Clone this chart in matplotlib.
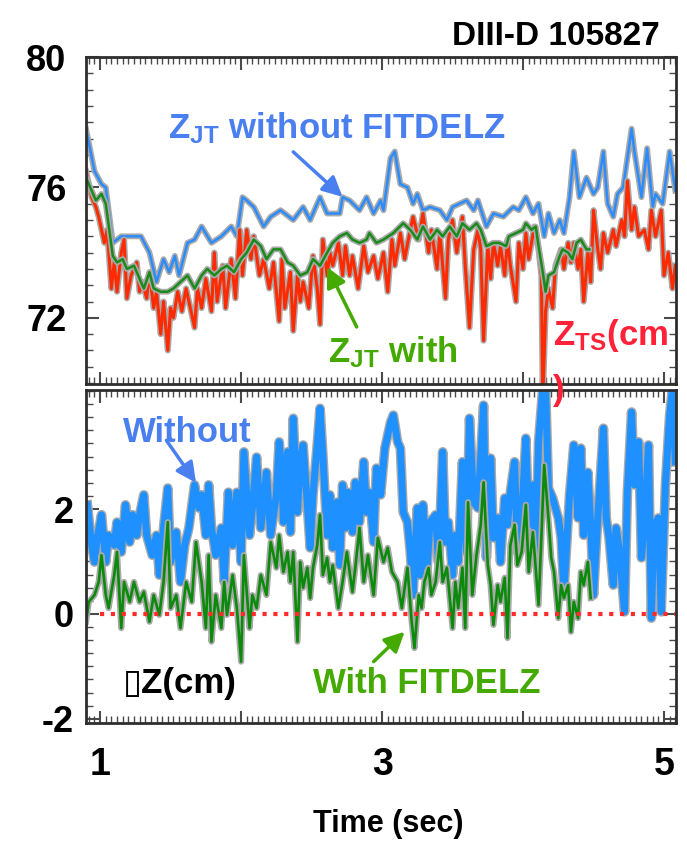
import matplotlib
matplotlib.use('Agg')
from matplotlib import pyplot as plt
from matplotlib import patheffects as pe
from matplotlib.ticker import MultipleLocator

# vertical position traces, DIII-D shot 105827 (time in sec, Z in cm)

# Z_JT without FITDELZ
zjt_no_t = [0.90, 0.96, 1.01, 1.04, 1.09, 1.15, 1.29, 1.35, 1.40, 1.45, 1.49, 1.53, 1.56, 1.62, 1.67,
            1.72, 1.79, 1.86, 1.93, 1.97, 2.01, 2.04, 2.09, 2.16, 2.21, 2.28, 2.37, 2.44, 2.49, 2.56,
            2.61, 2.70, 2.72, 2.77, 2.84, 2.89, 2.94, 2.99, 3.01, 3.06, 3.09, 3.13, 3.18, 3.22, 3.25,
            3.29, 3.34, 3.41, 3.46, 3.50, 3.60, 3.65, 3.68, 3.74, 3.79, 3.86, 3.93, 3.97, 4.02, 4.07,
            4.11, 4.15, 4.18, 4.22, 4.26, 4.29, 4.33, 4.36, 4.40, 4.45, 4.50, 4.53, 4.57, 4.60, 4.64,
            4.67, 4.71, 4.77, 4.79, 4.84, 4.88, 4.92, 4.94, 4.99, 5.04, 5.08]
zjt_no = [77.8, 76.5, 76.1, 76.0, 74.3, 74.5, 74.5, 74.0, 73.1, 73.8, 73.4, 73.9, 73.3, 74.3, 74.4,
          74.8, 74.3, 74.5, 74.8, 74.5, 75.7, 75.6, 75.4, 74.8, 75.1, 75.3, 75.0, 75.4, 75.0, 75.7,
          75.2, 75.2, 75.7, 75.6, 75.3, 75.7, 75.2, 75.6, 75.3, 76.9, 77.1, 76.1, 76.0, 75.5, 75.8,
          75.3, 75.4, 75.3, 75.0, 75.4, 75.6, 75.3, 75.6, 74.8, 75.2, 75.1, 75.4, 75.3, 75.7, 75.2,
          75.5, 74.5, 75.2, 74.6, 75.0, 74.6, 75.7, 77.1, 75.7, 76.3, 75.8, 76.0, 77.1, 75.5, 75.1,
          75.8, 76.0, 77.8, 77.1, 75.7, 77.2, 75.4, 75.8, 75.5, 77.1, 75.9]

# Thomson scattering Z_TS
zts_t = [0.90, 0.94, 0.97, 0.99, 1.03, 1.05, 1.08, 1.10, 1.12, 1.15, 1.17, 1.19, 1.22, 1.26, 1.28,
         1.30, 1.33, 1.35, 1.38, 1.40, 1.43, 1.45, 1.48, 1.50, 1.52, 1.55, 1.58, 1.61, 1.63, 1.67,
         1.69, 1.72, 1.75, 1.79, 1.81, 1.83, 1.87, 1.89, 1.93, 1.96, 1.99, 2.01, 2.04, 2.07, 2.09,
         2.13, 2.16, 2.20, 2.23, 2.27, 2.29, 2.31, 2.35, 2.37, 2.40, 2.42, 2.44, 2.48, 2.51, 2.54,
         2.56, 2.58, 2.61, 2.63, 2.65, 2.69, 2.72, 2.74, 2.77, 2.79, 2.83, 2.87, 2.90, 2.94, 2.97,
         3.01, 3.04, 3.07, 3.09, 3.13, 3.16, 3.20, 3.22, 3.26, 3.29, 3.33, 3.35, 3.39, 3.41, 3.45,
         3.47, 3.50, 3.53, 3.57, 3.59, 3.62, 3.65, 3.68, 3.70, 3.72, 3.75, 3.77, 3.79, 3.82, 3.84,
         3.87, 3.89, 3.91, 3.95, 3.97, 4.00, 4.02, 4.04, 4.08, 4.11, 4.13, 4.14, 4.16, 4.18, 4.21,
         4.23, 4.27, 4.29, 4.32, 4.34, 4.36, 4.39, 4.41, 4.43, 4.46, 4.48, 4.50, 4.53, 4.55, 4.57,
         4.60, 4.64, 4.66, 4.70, 4.72, 4.74, 4.77, 4.79, 4.82, 4.86, 4.89, 4.91, 4.94, 4.98, 5.00,
         5.03, 5.06, 5.08]
zts = [76.5, 75.7, 75.4, 75.1, 74.3, 74.7, 72.9, 73.7, 72.8, 74.0, 74.4, 72.6, 73.3, 73.7, 72.8,
       73.1, 72.6, 73.4, 72.3, 72.8, 71.5, 72.5, 71.0, 72.3, 72.0, 72.8, 72.2, 72.9, 72.5, 71.7,
       72.9, 72.3, 73.2, 72.2, 74.0, 72.5, 73.6, 72.3, 73.8, 72.6, 74.7, 73.3, 74.7, 73.8, 74.5,
       73.3, 73.8, 72.9, 73.7, 71.9, 73.8, 72.3, 73.4, 71.6, 73.3, 72.5, 73.1, 72.3, 73.9, 72.9,
       71.8, 74.4, 73.3, 74.0, 73.6, 74.3, 73.3, 74.2, 73.3, 73.9, 72.9, 74.2, 73.4, 73.9, 73.2,
       74.0, 72.8, 74.4, 73.6, 74.6, 73.8, 74.7, 75.1, 74.4, 75.2, 74.0, 74.7, 73.5, 74.6, 72.6,
       74.4, 75.0, 74.0, 75.1, 73.6, 71.7, 74.1, 74.7, 74.1, 71.3, 74.2, 73.2, 74.3, 73.6, 74.2,
       73.3, 74.4, 73.6, 72.5, 74.3, 73.5, 74.6, 73.8, 74.8, 74.1, 73.3, 69.5, 72.2, 72.9, 72.3,
       73.6, 74.1, 73.5, 74.3, 73.7, 74.3, 73.5, 74.1, 72.5, 74.0, 73.1, 75.3, 74.1, 73.5, 74.6,
       74.0, 74.7, 74.2, 75.0, 74.5, 76.2, 74.7, 75.4, 74.5, 74.7, 74.1, 75.3, 74.5, 75.3, 73.3,
       74.0, 72.9, 73.6]

# Z_JT with FITDELZ
zjt_t = [0.90, 0.94, 0.97, 1.01, 1.04, 1.09, 1.12, 1.16, 1.19, 1.24, 1.28, 1.31, 1.35, 1.38, 1.43,
         1.48, 1.52, 1.57, 1.62, 1.67, 1.72, 1.76, 1.81, 1.86, 1.90, 1.95, 2.00, 2.04, 2.09, 2.14,
         2.18, 2.23, 2.28, 2.33, 2.37, 2.42, 2.47, 2.51, 2.56, 2.61, 2.65, 2.70, 2.75, 2.79, 2.84,
         2.89, 2.91, 2.96, 3.01, 3.08, 3.15, 3.20, 3.25, 3.29, 3.34, 3.39, 3.43, 3.48, 3.53, 3.57,
         3.62, 3.67, 3.70, 3.74, 3.79, 3.83, 3.88, 3.90, 3.95, 4.00, 4.02, 4.06, 4.09, 4.11, 4.14,
         4.16, 4.18, 4.22, 4.26, 4.28, 4.32, 4.35, 4.38, 4.41, 4.45, 4.47]
zjt = [76.3, 75.9, 75.6, 75.8, 75.5, 73.9, 73.7, 73.8, 73.5, 73.6, 73.2, 72.9, 73.4, 72.9, 72.8,
       72.8, 72.9, 73.1, 73.3, 72.9, 73.3, 73.5, 73.3, 73.5, 73.6, 73.4, 73.8, 74.0, 74.4, 74.2,
       73.8, 74.1, 74.1, 73.7, 73.6, 73.3, 73.4, 73.8, 73.6, 74.0, 74.3, 74.5, 74.6, 74.4, 74.3,
       74.4, 74.6, 74.3, 74.4, 74.6, 74.9, 74.7, 74.4, 74.8, 74.4, 74.7, 74.5, 74.8, 74.5, 74.9,
       74.7, 74.9, 74.7, 74.2, 74.3, 74.3, 74.2, 74.5, 74.6, 74.7, 74.9, 74.7, 74.8, 74.2, 73.4,
       72.8, 73.3, 73.4, 73.9, 74.1, 74.0, 73.8, 74.3, 74.4, 74.1, 74.1]

# delta Z = Z_JT - Z_TS, without FITDELZ
dz_no_t = [0.91, 0.94, 0.96, 0.98, 1.01, 1.04, 1.06, 1.10, 1.12, 1.15, 1.18, 1.21, 1.23, 1.26, 1.28,
           1.31, 1.33, 1.37, 1.40, 1.42, 1.45, 1.48, 1.50, 1.54, 1.57, 1.60, 1.63, 1.67, 1.70, 1.72,
           1.75, 1.77, 1.79, 1.82, 1.86, 1.88, 1.91, 1.94, 1.97, 2.00, 2.02, 2.06, 2.08, 2.11, 2.14,
           2.18, 2.21, 2.25, 2.27, 2.29, 2.30, 2.33, 2.35, 2.37, 2.40, 2.42, 2.44, 2.47, 2.49, 2.51,
           2.54, 2.56, 2.58, 2.61, 2.63, 2.65, 2.68, 2.70, 2.72, 2.74, 2.76, 2.79, 2.81, 2.84, 2.87,
           2.89, 2.91, 2.94, 2.96, 2.99, 3.02, 3.06, 3.08, 3.11, 3.13, 3.15, 3.18, 3.20, 3.22, 3.25,
           3.27, 3.29, 3.32, 3.34, 3.38, 3.40, 3.43, 3.45, 3.47, 3.50, 3.52, 3.54, 3.57, 3.60, 3.62,
           3.65, 3.68, 3.72, 3.74, 3.77, 3.79, 3.82, 3.84, 3.87, 3.89, 3.91, 3.94, 3.96, 3.99, 4.02,
           4.04, 4.07, 4.09, 4.11, 4.14, 4.16, 4.18, 4.21, 4.25, 4.27, 4.29, 4.33, 4.36, 4.39, 4.41,
           4.43, 4.46, 4.48, 4.50, 4.53, 4.57, 4.59, 4.61, 4.64, 4.66, 4.68, 4.72, 4.74, 4.77, 4.79,
           4.82, 4.84, 4.86, 4.89, 4.91, 4.93, 4.96, 4.98, 5.01, 5.04, 5.06, 5.08]
dz_no = [2.08, 1.31, 0.99, 1.45, 1.89, 0.99, 1.50, 1.31, 1.75, 1.18, 2.08, 1.37, 1.89, 1.50, 1.89,
         2.27, 1.50, 1.12, 1.50, 0.74, 1.64, 2.40, 0.99, 1.56, 0.61, 1.31, 1.64, 2.46, 2.02, 2.27,
         1.50, 2.46, 1.64, 1.12, 1.64, 0.61, 2.32, 1.31, 2.32, 0.99, 3.09, 1.50, 2.02, 2.99, 1.64,
         2.70, 1.50, 2.27, 3.28, 2.70, 1.75, 3.09, 1.56, 3.73, 1.94, 2.97, 3.22, 2.08, 1.26, 2.27,
         3.22, 3.92, 3.03, 1.50, 2.27, 1.26, 2.13, 0.93, 2.46, 1.64, 2.32, 1.56, 2.51, 1.75, 2.90,
         1.94, 2.32, 1.37, 2.78, 2.27, 3.16, 3.65, 3.79, 3.28, 3.16, 1.94, 1.75, 1.18, 0.36, 2.02,
         0.74, 2.08, 0.88, 1.75, 1.89, 0.99, 3.09, 1.37, 1.75, 0.74, 1.50, 0.99, 2.90, 1.18, 3.73,
         2.13, 2.02, 3.98, 1.07, 2.97, 1.45, 1.83, 0.99, 2.21, 1.70, 2.32, 2.90, 1.18, 1.83, 3.35,
         1.70, 2.46, 1.18, 3.28, 4.30, 4.30, 2.40, 2.21, 1.83, 1.45, 0.42, 2.27, 3.22, 1.83, 3.16,
         1.50, 2.70, 1.70, 0.36, 1.83, 3.54, 1.83, 1.45, 0.55, 1.64, 1.26, 0.04, 2.32, 3.85, 2.46,
         3.28, 1.07, 1.70, 3.22, -0.08, 1.70, 1.83, 0.04, 2.46, 3.79, 4.30, 2.90]

# delta Z with FITDELZ
dz_fit_t = [0.90, 0.92, 0.96, 0.99, 1.01, 1.04, 1.06, 1.10, 1.12, 1.15, 1.17, 1.21, 1.24, 1.28, 1.31,
            1.35, 1.38, 1.42, 1.45, 1.48, 1.50, 1.54, 1.57, 1.61, 1.65, 1.68, 1.70, 1.72, 1.75, 1.77,
            1.79, 1.82, 1.86, 1.88, 1.90, 1.94, 1.97, 2.00, 2.02, 2.06, 2.08, 2.11, 2.14, 2.18, 2.21,
            2.25, 2.27, 2.30, 2.33, 2.35, 2.37, 2.40, 2.42, 2.44, 2.47, 2.49, 2.51, 2.54, 2.56, 2.58,
            2.61, 2.63, 2.65, 2.69, 2.72, 2.75, 2.79, 2.81, 2.84, 2.87, 2.90, 2.94, 2.97, 3.01, 3.04,
            3.07, 3.11, 3.14, 3.16, 3.18, 3.21, 3.23, 3.26, 3.28, 3.30, 3.33, 3.35, 3.38, 3.41, 3.43,
            3.46, 3.50, 3.52, 3.54, 3.57, 3.59, 3.61, 3.64, 3.67, 3.70, 3.72, 3.75, 3.77, 3.79, 3.82,
            3.84, 3.87, 3.89, 3.91, 3.94, 3.96, 3.99, 4.02, 4.04, 4.07, 4.11, 4.13, 4.15, 4.18, 4.20,
            4.22, 4.25, 4.27, 4.29, 4.32, 4.34, 4.36, 4.39, 4.41, 4.43, 4.46, 4.48]
dz_fit = [-0.15, 0.23, 0.36, 0.61, 1.12, 0.36, 0.11, 0.74, 1.18, -0.27, 0.61, 0.23, 0.61, 0.23, 0.42,
          -0.15, 0.36, -0.02, 0.61, 1.75, 0.11, 0.36, -0.27, 0.61, 0.23, 1.37, 0.99, 0.61, -0.27, 1.12,
          -0.53, 0.36, -0.27, 0.61, -0.02, 0.74, 0.11, -0.91, 1.12, -0.27, 0.36, 0.11, 0.74, 0.36, 1.37,
          0.88, 1.50, 0.80, 1.18, 0.61, 1.18, -0.53, 0.99, 0.50, 0.88, 0.30, 0.88, 1.31, 1.89, 0.74,
          1.07, 0.61, 0.93, 0.11, 0.61, 1.18, 0.42, 0.88, 1.64, 0.61, 1.12, 0.36, 1.45, 0.99, 1.26,
          0.80, 0.61, 0.11, 0.50, 0.88, -0.15, -0.65, 0.36, 0.11, 0.61, 0.88, 0.36, 0.61, 1.37, 0.61,
          0.88, -0.27, 0.61, 0.11, 0.88, -0.27, 2.13, 0.36, 1.12, 1.70, 2.51, 0.93, 0.55, -0.21, 0.55,
          0.23, 0.69, -0.46, 1.31, 1.70, 0.93, 1.18, 2.08, 0.80, 1.56, 0.17, 1.45, 2.84, 1.83, 1.07,
          0.80, -0.08, 0.55, 0.30, 0.55, -0.34, 0.23, -0.08, 0.80, 0.55, 0.99, 0.30]

blue_txt = '#4a7ff0'
green_txt = '#44aa00'
red_txt = '#ff2238'

plt.rcParams['font.family'] = ['Liberation Sans', 'DejaVu Sans']
plt.rcParams['font.weight'] = 'bold'
plt.rcParams['axes.unicode_minus'] = False
plt.rcParams['mathtext.fontset'] = 'custom'
plt.rcParams['mathtext.rm'] = 'Liberation Sans:bold'
plt.rcParams['mathtext.it'] = 'Liberation Sans:bold'
plt.rcParams['mathtext.bf'] = 'Liberation Sans:bold'


def halo(w):
    # grey outline round each trace
    return [pe.Stroke(linewidth=w, foreground='#a9a9a9'), pe.Normal()]


def frame(ax):
    for s in ax.spines.values():
        s.set_linewidth(2)
        s.set_color('#2e2e2e')
    ax.tick_params(which='both', direction='in', top=True, right=True, color='#4a4a4a')
    ax.tick_params(which='major', length=9, width=1.5)
    ax.tick_params(which='minor', length=5, width=1)
    ax.tick_params(labelsize=26)
    ax.xaxis.set_minor_locator(MultipleLocator(0.04))
    ax.set_xlim(0.90, 5.085)
    ax.set_xticks([1, 2, 3, 4, 5])


fig = plt.figure(figsize=(6.87, 8.41), dpi=100)
ax1 = fig.add_axes([0.1252, 0.5434, 0.8588, 0.3888])
ax2 = fig.add_axes([0.1252, 0.1403, 0.8588, 0.3960])

# top: Z positions
ax1.plot(zjt_no_t, zjt_no, color='#2b8cff', lw=1.8, path_effects=halo(4.2))
ax1.plot(zts_t, zts, color='#ff2a00', lw=2.2, path_effects=halo(4.4))
ax1.plot(zjt_t, zjt, color='#1a8a1a', lw=1.8, path_effects=halo(4.2))
ax1.set_ylim(69.97, 80)
frame(ax1)
ax1.set_yticks([72, 76, 80])
ax1.yaxis.set_minor_locator(MultipleLocator(0.5))
ax1.set_xticklabels([])
ax1.tick_params(axis='y', pad=14)

ax1.text(1.48, 77.52, 'Z$_{JT}$ without FITDELZ', color=blue_txt, fontsize=25)
ax1.annotate('', xy=(2.72, 75.71), xytext=(2.37, 77.09),
             arrowprops=dict(arrowstyle='-|>', color=blue_txt, lw=2.5, mutation_scale=30,
                             shrinkA=0, shrinkB=0))
ax1.text(2.62, 70.64, 'Z$_{JT}$ with', color=green_txt, fontsize=25)
ax1.annotate('', xy=(2.61, 73.56), xytext=(2.82, 71.72),
             arrowprops=dict(arrowstyle='-|>', color=green_txt, lw=2.5, mutation_scale=30,
                             shrinkA=0, shrinkB=0))
ax1.text(4.21, 71.17, 'Z$_{TS}$(cm', color=red_txt, fontsize=25)

# bottom: difference from Thomson
ax2.hlines(0, 1.0, 5.08, colors='#ff2a2a', linestyles=(0, (1, 1.6)), lw=3, zorder=5)
ax2.plot(dz_no_t, dz_no, color='#1e90ff', lw=5, path_effects=halo(7))
ax2.plot(dz_fit_t, dz_fit, color='#0b8a0b', lw=1.9, path_effects=halo(4.4))
ax2.set_ylim(-2.08, 4.27)
frame(ax2)
ax2.set_yticks([-2, 0, 2])
ax2.yaxis.set_minor_locator(MultipleLocator(0.25))
ax2.set_xticklabels(['1', '', '3', '', '5'])
ax2.tick_params(axis='y', pad=9)
ax2.tick_params(axis='x', pad=17, labelsize=27)

ax2.text(4.21, 4.08, ')', color=red_txt, fontsize=25, clip_on=False)
ax2.text(1.16, 3.28, 'Without', color=blue_txt, fontsize=25)
ax2.annotate('', xy=(1.68, 2.50), xytext=(1.47, 3.31),
             arrowprops=dict(arrowstyle='-|>', color=blue_txt, lw=2.5, mutation_scale=30,
                             shrinkA=0, shrinkB=0))
ax2.text(2.51, -1.50, 'With FITDELZ', color=green_txt, fontsize=25)
ax2.annotate('', xy=(3.16, -0.34), xytext=(2.94, -0.91),
             arrowprops=dict(arrowstyle='-|>', color=green_txt, lw=2.5, mutation_scale=30,
                             shrinkA=0, shrinkB=0))
ax2.text(1.16, -1.50, '\u25af' + 'Z(cm)', color='black', fontsize=25)

fig.text(0.9607, 0.9465, 'DIII-D 105827', ha='right', va='baseline', fontsize=24)
fig.text(0.5648, 0.0107, 'Time (sec)', ha='center', va='baseline', fontsize=22)

plt.savefig('out.png', dpi=100)
